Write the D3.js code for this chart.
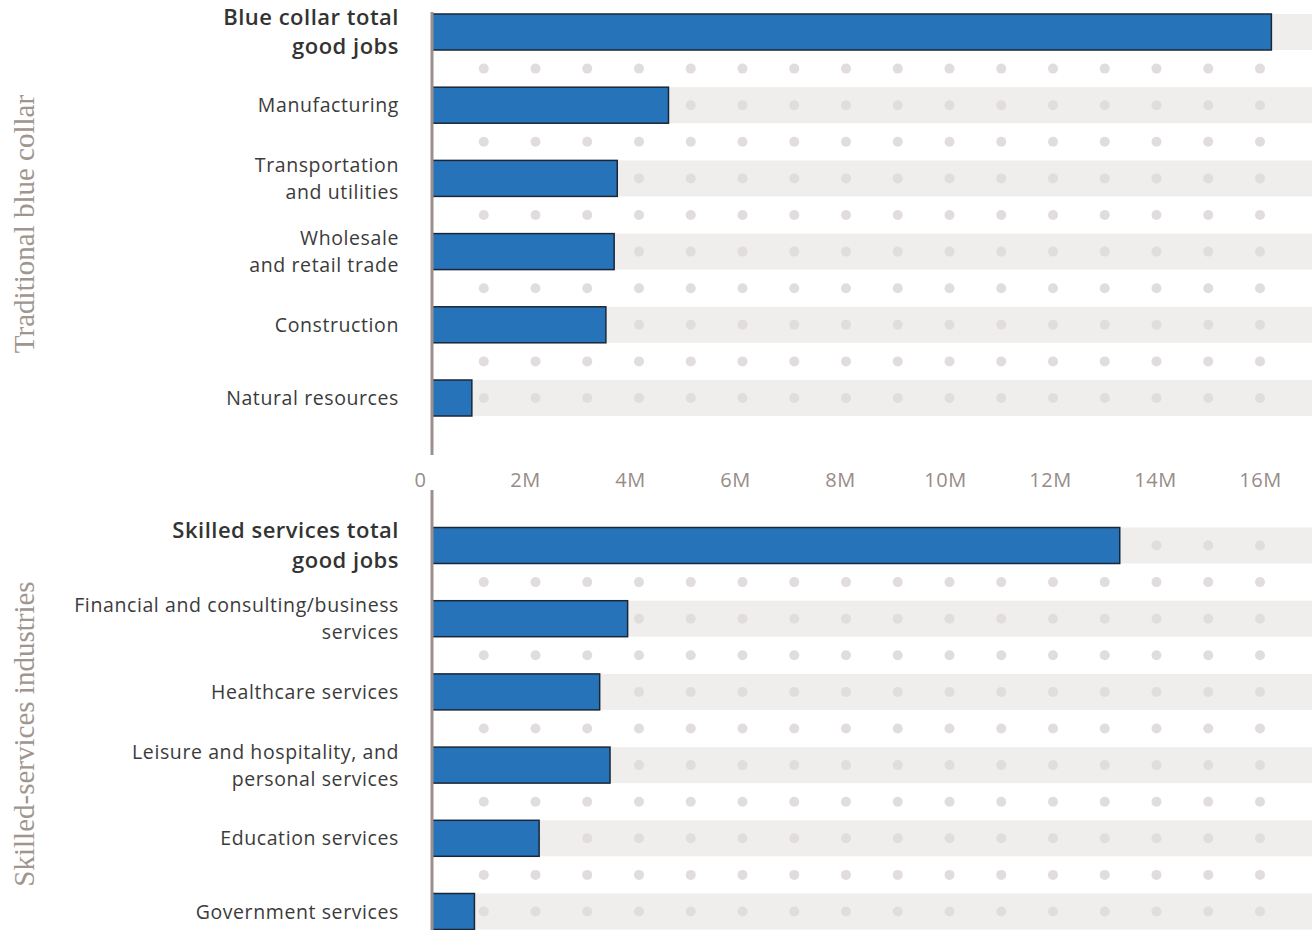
<!DOCTYPE html>
<html>
<head>
<meta charset="utf-8">
<script src="https://cdn.jsdelivr.net/npm/d3@7"></script>
<style>
  html, body { margin: 0; padding: 0; background: #fff; }
  svg { display: block; }
  .cat { font-family: "Open Sans", sans-serif; font-size: 19.5px; letter-spacing: 0.6px; fill: #3b3b3b; }
  .cat.total { font-weight: 600; font-size: 22px; letter-spacing: 0.5px; fill: #333; }
  .group-title { font-family: "Liberation Serif", serif; font-size: 29px; fill: #a0958f; }
  .tick text { font-family: "Open Sans", sans-serif; font-size: 20px; letter-spacing: 0.5px; fill: #978c87; }
</style>
</head>
<body>
<svg id="chart" width="1312" height="930"></svg>
<script>
// Good jobs by industry, in millions
const blueCollarCategories = [
  "Blue collar total\ngood jobs",
  "Manufacturing",
  "Transportation\nand utilities",
  "Wholesale\nand retail trade",
  "Construction",
  "Natural resources"
];
const blueCollarValues = [16.22, 4.57, 3.58, 3.52, 3.36, 0.77];

const skilledCategories = [
  "Skilled services total\ngood jobs",
  "Financial and consulting/business\nservices",
  "Healthcare services",
  "Leisure and hospitality, and\npersonal services",
  "Education services",
  "Government services"
];
const skilledValues = [13.29, 3.78, 3.24, 3.44, 2.07, 0.82];

const groupTitles = ["Traditional blue collar", "Skilled-services industries"];

const tickValues = [0, 2, 4, 6, 8, 10, 12, 14, 16];
const tickLabels = ["0", "2M", "4M", "6M", "8M", "10M", "12M", "14M", "16M"];
const dotValues = d3.range(1, 17);

const svg = d3.select("#chart");
const W = 1312;

// value scale (millions) for bars and the dotted guide grid
const x = d3.scaleLinear().domain([0, 16]).range([432, 1260]);
// the tick label row sits slightly offset to the left
const xLabels = d3.scaleLinear().domain([0, 16]).range([420, 1260]);

const BAND_H = 36;
const STEP = 73.2;

const panels = [
  { cats: blueCollarCategories, vals: blueCollarValues, title: groupTitles[0],
    firstCenter: 32, axisTop: 12, axisBottom: 455, titleY: 224, totalLH: 29 },
  { cats: skilledCategories, vals: skilledValues, title: groupTitles[1],
    firstCenter: 545.5, axisTop: 490, axisBottom: 930, titleY: 734, totalLH: 30 }
];

panels.forEach(p => {
  const n = p.cats.length;
  const y = d3.scalePoint().domain(p.cats).range([p.firstCenter, p.firstCenter + (n - 1) * STEP]);
  const g = svg.append("g");

  // light background bands
  g.selectAll("rect.band").data(p.cats).join("rect")
    .attr("class", "band")
    .attr("x", x(0)).attr("width", W - x(0))
    .attr("y", d => y(d) - BAND_H / 2).attr("height", BAND_H)
    .attr("fill", "#efeeec");

  // dot rows: inside each band and halfway between bands
  const rowYs = p.cats.map(d => y(d));
  const gapYs = rowYs.slice(1).map((v, i) => (v + rowYs[i]) / 2);
  const allRows = rowYs.concat(gapYs);
  const dots = [];
  allRows.forEach(ry => dotValues.forEach(v => dots.push({ v, ry })));
  g.selectAll("circle.dot").data(dots).join("circle")
    .attr("class", "dot")
    .attr("cx", d => x(d.v)).attr("cy", d => d.ry).attr("r", 5)
    .attr("fill", "#e1dddc");

  // bars
  const data = p.cats.map((c, i) => ({ c, v: p.vals[i], total: i === 0 }));
  g.selectAll("rect.bar").data(data).join("rect")
    .attr("class", "bar")
    .attr("x", x(0)).attr("width", d => x(d.v) - x(0))
    .attr("y", d => y(d.c) - BAND_H / 2).attr("height", BAND_H)
    .attr("fill", "#2773b9")
    .attr("stroke", "#1a2737").attr("stroke-width", 1.5);

  // category labels, right aligned, vertically centred on the band
  const labels = g.selectAll("text.cat").data(data).join("text")
    .attr("class", d => d.total ? "cat total" : "cat")
    .attr("text-anchor", "end");
  labels.each(function (d) {
    const lines = d.c.split("\n");
    const lh = d.total ? p.totalLH : 27;
    const t = d3.select(this);
    lines.forEach((ln, i) => {
      t.append("tspan")
        .attr("x", 399)
        .attr("y", y(d.c) + (i - (lines.length - 1) / 2) * lh)
        .attr("dy", "0.36em")
        .text(ln);
    });
  });

  // vertical baseline
  g.append("line")
    .attr("x1", x(0)).attr("x2", x(0))
    .attr("y1", p.axisTop).attr("y2", p.axisBottom)
    .attr("stroke", "#9b908b").attr("stroke-width", 3);

  // rotated group title
  g.append("text")
    .attr("class", "group-title")
    .attr("transform", `translate(34,${p.titleY}) rotate(-90)`)
    .attr("text-anchor", "middle")
    .text(p.title);
});

// shared value axis between the two panels
const axis = d3.axisBottom(xLabels)
  .tickValues(tickValues)
  .tickFormat((d, i) => tickLabels[i])
  .tickSize(0)
  .tickPadding(0);
const axG = svg.append("g").attr("transform", "translate(0,473)").call(axis);
axG.select(".domain").remove();
axG.selectAll(".tick text").attr("dy", "0.71em");
</script>
</body>
</html>
